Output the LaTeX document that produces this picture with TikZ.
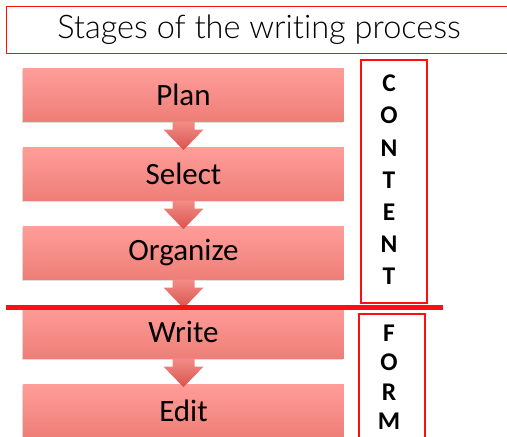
\documentclass[tikz,border=0pt]{standalone}
\usepackage{fontspec}
\setmainfont{Carlito}
\newfontfamily\titlefont[Ligatures=NoCommon]{Lato Light}
\usetikzlibrary{shadows}
\definecolor{stagetop}{HTML}{FF9D99}
\definecolor{stagebot}{HTML}{EE7E77}
\definecolor{arrowtop}{HTML}{F28D87}
\definecolor{arrowbot}{HTML}{D9534E}
\definecolor{framered}{HTML}{FF1010}
\newcommand{\stagearrow}[2]{%
  \path[top color=arrowtop, bottom color=arrowbot]
    ($(#1.south)+(-11,0)$) -- ($(#1.south)+(11,0)$) -- ($(#1.south)+(11,8)$)
    -- ($(#1.south)+(20,8)$) -- ($(#2.north)+(0,3)$) -- ($(#1.south)+(-20,8)$)
    -- ($(#1.south)+(-11,8)$) -- cycle;}
\usetikzlibrary{calc}
\begin{document}
\begin{tikzpicture}[x=1pt,y=-1pt,
    stage/.style={minimum width=321pt, minimum height=53pt, inner sep=0pt,
      top color=stagetop, bottom color=stagebot, font=\fontsize{31}{32}\selectfont,
      drop shadow={opacity=0.25, shadow xshift=-0.8pt, shadow yshift=-1.2pt}},
    letter/.style={font=\fontsize{25.5}{26}\selectfont\bfseries, inner sep=0pt}]
  \useasboundingbox (0,0) rectangle (507,437);
  \clip (0,0) rectangle (507,437);
  \node[draw=framered, line width=0.8pt, minimum width=520pt, minimum height=47pt, inner sep=0pt,
    font=\titlefont\fontsize{32.5}{34}\selectfont] (title) at (266,29.5) {Stages of the writing process\hspace*{14pt}};
  \matrix[row sep={79pt,between origins}, inner sep=0pt] at (183.5,0) [anchor=north, yshift=-68pt]
  {
    \node[stage] (plan) {Plan}; \\
    \node[stage] (select) {Select}; \\
    \node[stage] (organize) {Organize}; \\
    \node[stage] (write) {Write}; \\
    \node[stage] (edit) {Edit}; \\
  };
  \stagearrow{plan}{select}
  \stagearrow{select}{organize}
  \stagearrow{organize}{write}
  \stagearrow{write}{edit}
  \draw[framered, line width=5pt] (6,307) -- (443,307);
  \node[draw=framered, line width=1.6pt, minimum width=66pt, minimum height=243pt] (content) at (394,181.5) {};
  \foreach \l [count=\i] in {C,O,N,T,E,N,T}
    \node[letter] (c\i) at (389,{83.5+32.2*(\i-1)}) {\l};
  \node[draw=framered, line width=1.1pt, minimum width=66pt, minimum height=140pt] (form) at (392,384) {};
  \foreach \l [count=\i] in {F,O,R,M}
    \node[letter] (f\i) at (389,{333+29.4*(\i-1)}) {\l};
\end{tikzpicture}
\end{document}
